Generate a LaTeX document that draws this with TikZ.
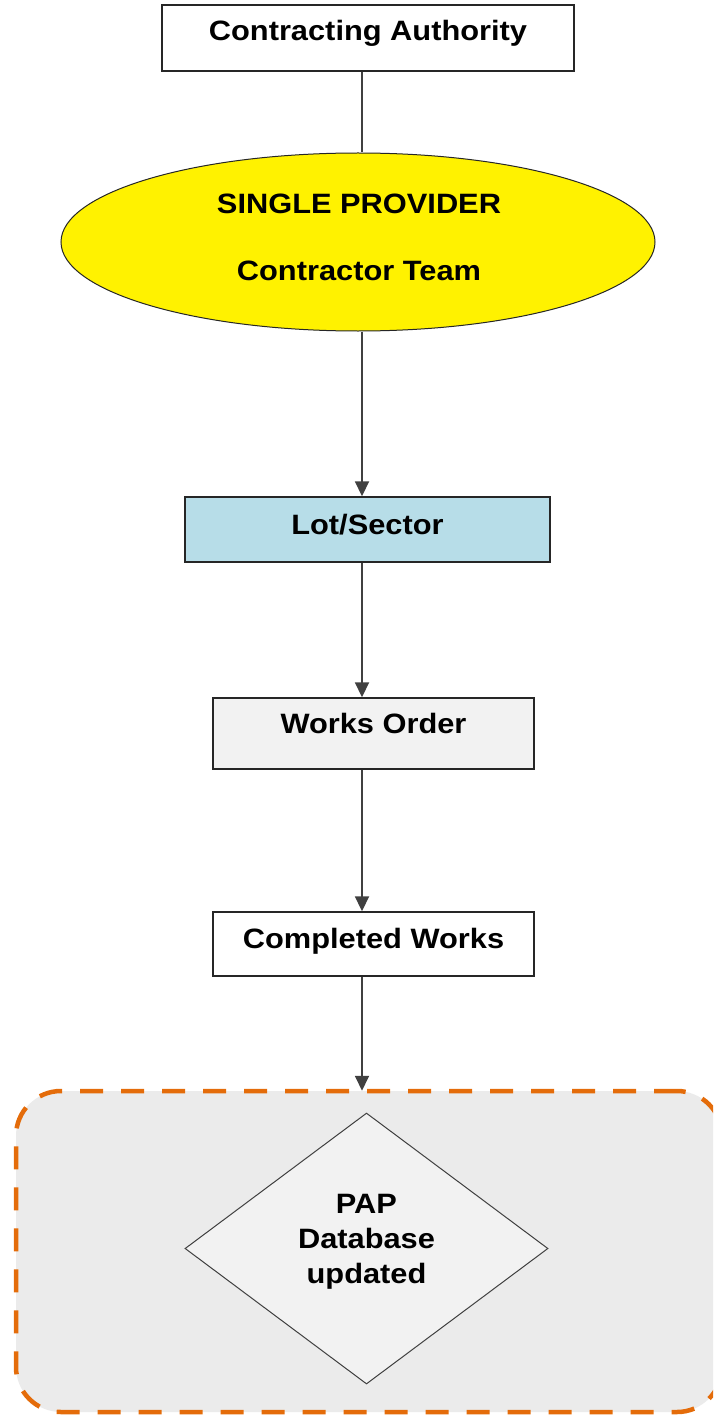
\documentclass[tikz,border=0pt]{standalone}
\usepackage{fontspec}
\setmainfont{Liberation Sans}[FakeStretch=1.1]
\usetikzlibrary{shapes.geometric,arrows.meta}
\definecolor{lotblue}{HTML}{B7DDE8}
\definecolor{paleg}{HTML}{F2F2F2}
\definecolor{groupg}{HTML}{EBEBEB}
\definecolor{dashor}{HTML}{E46C0A}
\tikzset{
  box/.style={draw=black!85, line width=1.4pt, rectangle, inner sep=0pt, text height=20pt,
    font=\fontsize{28}{32}\selectfont\bfseries},
  lbl/.style={inner sep=0pt, anchor=base, font=\fontsize{28}{32}\selectfont\bfseries},
  conn/.style={draw=black!75, line width=1.8pt},
  arr/.style={conn, -{Triangle[width=14pt,length=15pt]}},
}
\begin{document}
\begin{tikzpicture}[x=1pt,y=-1pt]
\useasboundingbox (0,0) rectangle (713,1415);
\coordinate (ax) at (362,0);
% group
\begin{scope}
\clip (0,0) rectangle (713,1415);
\node[draw=dashor, fill=groupg, line width=4.5pt, dash pattern=on 23pt off 18pt,
  rounded corners=45pt, rectangle, minimum width=706pt, minimum height=321pt, inner sep=0pt]
  (grp) at (369,1251.5) {};
\end{scope}
% nodes
\node[box, fill=white, minimum width=412pt, minimum height=66pt, text depth=15pt]
  (ca) at (368,38) {Contracting Authority};
\node[ellipse, draw=black!85, line width=1pt, fill=yellow, minimum width=594pt,
  minimum height=178pt, inner sep=0pt] (sp) at (358,242) {};
\node[lbl] (sp1) at (359,214) {SINGLE PROVIDER};
\node[lbl] (sp2) at (359,280) {Contractor Team};
\node[box, fill=lotblue, minimum width=365pt, minimum height=65pt, text depth=11pt]
  (lot) at (367.5,529.5) {Lot/Sector};
\node[box, fill=paleg, minimum width=321pt, minimum height=71pt, text depth=20pt]
  (wo) at (373.5,733.5) {Works Order};
\node[box, fill=white, minimum width=321pt, minimum height=64pt, text depth=11pt]
  (cw) at (373.5,944) {Completed Works};
\node[diamond, draw=black!75, line width=1pt, fill=paleg, minimum width=363pt,
  minimum height=271pt, inner sep=0pt] (pap) at (366.5,1248.5) {};
\node[lbl] (pap1) at (366.5,1213) {PAP};
\node[lbl] (pap2) at (366.5,1248) {Database};
\node[lbl] (pap3) at (366.5,1283) {updated};
% connectors
\draw[conn] (ca.south -| ax) -- (sp.north -| ax);
\draw[arr] (sp.south -| ax) -- (lot.north -| ax);
\draw[arr] (lot.south -| ax) -- (wo.north -| ax);
\draw[arr] (wo.south -| ax) -- (cw.north -| ax);
\draw[arr] (cw.south -| ax) -- ([yshift=-2pt]grp.north -| ax);
\end{tikzpicture}
\end{document}
